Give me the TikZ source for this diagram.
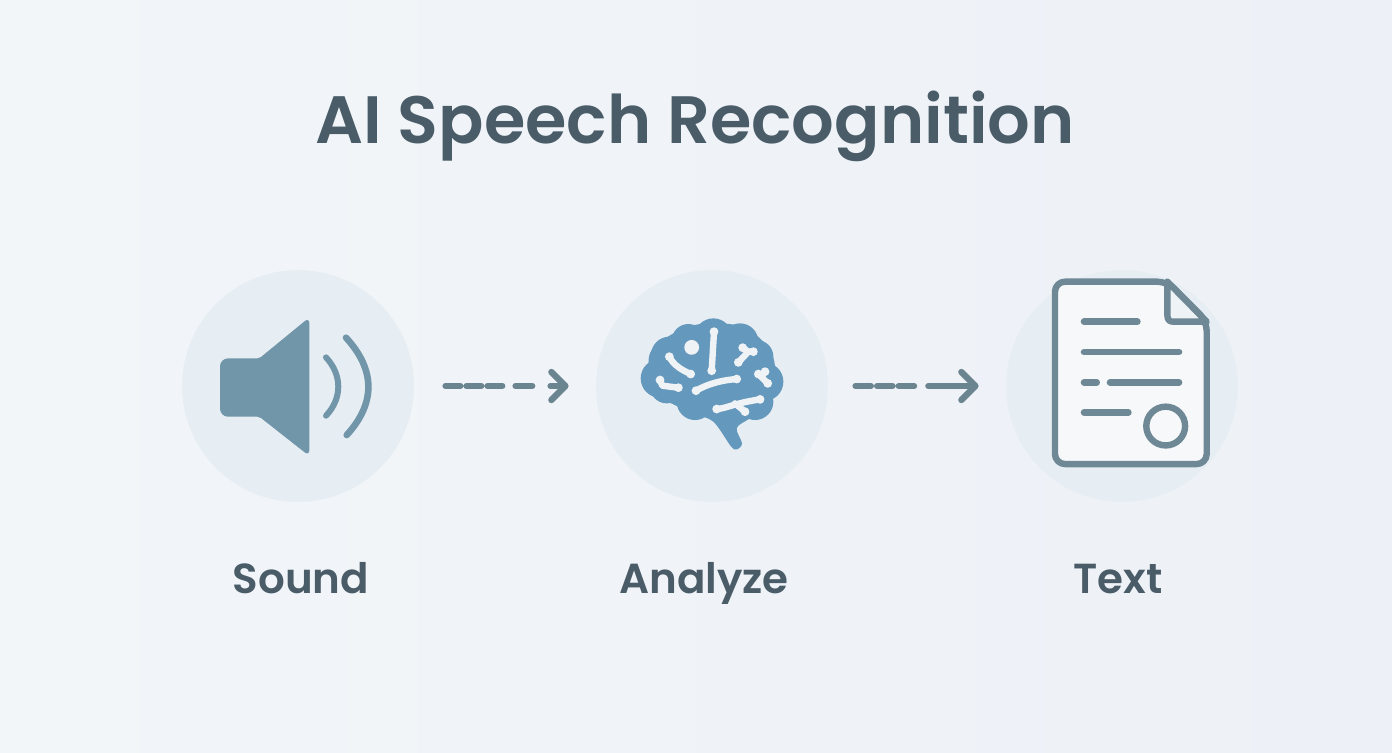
\documentclass[tikz,border=0pt]{standalone}
\usepackage{fontspec}
\setmainfont{Poppins}
\newfontfamily\headfont{Poppins SemiBold}
\usetikzlibrary{arrows.meta}
\definecolor{pageLeft}{HTML}{F2F6F9}
\definecolor{pageRight}{HTML}{EDF1F7}
\definecolor{inkText}{HTML}{4A5C68}
\definecolor{discFill}{HTML}{E6EEF4}
\definecolor{flowLine}{HTML}{6A8590}
\definecolor{speakerBlue}{HTML}{7196A9}
\definecolor{brainBlue}{HTML}{6498BD}
\definecolor{brainMark}{HTML}{F0F3F5}
\definecolor{docLine}{HTML}{6F8896}
\definecolor{docPaper}{HTML}{F7F8F9}
\definecolor{docFold}{HTML}{EEF3F6}
\tikzset{
  disc/.style={circle, fill=discFill, minimum size=116pt, inner sep=0pt},
  caption/.style={text=inkText, anchor=base, inner sep=0pt, font=\headfont\fontsize{21}{24}\selectfont},
  flow/.style={draw=flowLine, line width=3pt, line cap=round,
    -{Straight Barb[length=7pt,width=14pt,line width=3.2pt,round]},
    shorten >=13.5pt},
  wave/.style={draw=speakerBlue, line cap=round},
  brainvein/.style={draw=brainMark, line width=3.2pt, line cap=round, line join=round},
  doctrace/.style={draw=docLine, line width=3.3pt, line cap=round}
}
\begin{document}
\begin{tikzpicture}[x=0.5pt,y=-0.5pt]
  % Page
  \useasboundingbox (0,0) rectangle (1392,752);
  \fill[left color=pageLeft, right color=pageRight] (0,0) rectangle (1392,752);

  % Title
  \node[caption, font=\headfont\fontsize{33.5}{40}\selectfont] (title) at (695,143) {AI Speech Recognition};

  % Discs
  \node[disc] (sound) at (298,386) {};
  \node[disc] (analyze) at (712,386) {};
  \node[disc] (text) at (1122,386) {};

  % Arrows
  \draw[flow, shorten <=15.5pt, dash pattern=on 7.5pt off 3pt on 7.5pt off 3pt on 7.5pt off 6.5pt on 8.5pt off 9pt on 40pt] (sound) -- (analyze);
  \draw[flow, shorten <=13.5pt, dash pattern=on 7.8pt off 3pt on 7.8pt off 3pt on 7.8pt off 7pt on 40pt] (analyze) -- (text);

  % Speaker
  \begin{scope}[shift={(200,300)},x=0.1667pt,y=-0.1667pt]
    \fill[speakerBlue, rounded corners=4pt] (60,175) [rounded corners=1pt] -- (178,175) [rounded corners=3pt] -- (328,52) -- (328,468) [rounded corners=1pt] -- (178,350) [rounded corners=4pt] -- (60,350) -- cycle;
    \draw[wave, line width=3pt] (378,172) .. controls (427,225) and (427,295) .. (378,347);
    \draw[wave, line width=3.3pt] (438,113) .. controls (527,210) and (527,310) .. (440,405);
  \end{scope}

  % Brain
  \begin{scope}[shift={(620,300)},x=0.1667pt,y=-0.1667pt]
    \fill[brainBlue] plot[smooth cycle, tension=0.55] coordinates {(90,230) (95,150) (190,85) (280,70) (380,85) (455,160) (465,260) (435,330) (385,358) (350,385) (366,430) (350,448) (332,438) (280,365) (220,340) (120,290)};
    % Lobes
    \foreach \cx/\cy/\cr in {120/235/58, 148/165/55, 205/122/50, 280/112/57, 360/125/55, 410/170/50, 432/245/58, 405/305/55, 340/320/45, 225/305/55, 140/260/50}
      \fill[brainBlue] (\cx,\cy) circle[radius=\cr*0.1667pt];
    \fill[brainMark] (215,142) circle[radius=3.7pt];
    \draw[brainvein] (282,95) -- (275,212);
    \draw[brainvein] (148,170) .. controls (160,195) and (185,210) .. (212,222);
    \draw[brainvein] (120,240) -- (127,257) -- (175,263);
    \draw[brainvein] (228,272) .. controls (265,250) and (310,240) .. (350,237);
    \draw[brainvein] (355,187) -- (385,155) -- (400,155) (368,143) -- (385,155);
    \draw[brainvein] (415,222) -- (443,250) (425,228) -- (435,215);
    \draw[brainvein] (290,327) .. controls (320,325) and (340,310) .. (420,298) (345,310) -- (375,335);
    % Vein ends
    \foreach \cx/\cy in {282/95, 275/212, 148/170, 212/222, 120/240, 175/263, 228/272, 350/237, 355/187, 400/155, 368/143, 415/222, 443/250, 435/215, 290/327, 420/298, 375/335}
      \fill[brainMark] (\cx,\cy) circle[radius=2.2pt];
  \end{scope}

  % Document
  \begin{scope}[shift={(1030,265)},x=0.1667pt,y=-0.1667pt]
    \filldraw[fill=docPaper, draw=docLine, line width=3.2pt, line join=round, rounded corners=5pt] (75,50) -- (412,50) -- (530,168) -- (530,597) -- (75,597) -- cycle;
    \filldraw[fill=docFold, draw=docLine, line width=3.2pt, line join=round] (412,50) -- (412,150) .. controls (412,165) and (418,170) .. (430,170) -- (530,170) -- cycle;
    \draw[doctrace] (162,170) -- (322,170);
    \draw[doctrace] (162,261) -- (447,261);
    \draw[doctrace] (162,352) -- (200,352);
    \draw[doctrace] (240,352) -- (447,352);
    \draw[doctrace] (162,442) -- (295,442);
    \draw[draw=docLine, line width=3.2pt] (407,483) circle[radius=9.7pt];
  \end{scope}

  % Labels
  \node[caption] (soundlabel) at (301,593) {Sound};
  \node[caption] (analyzelabel) at (704,593) {Analyze};
  \node[caption] (textlabel) at (1118,593) {Text};
\end{tikzpicture}
\end{document}
